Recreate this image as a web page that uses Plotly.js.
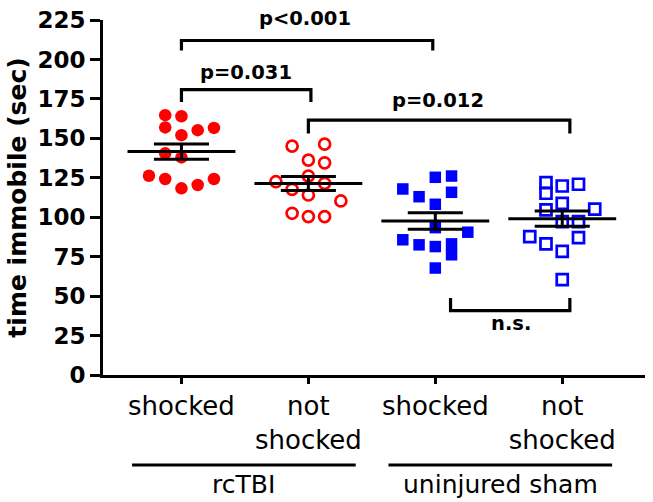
<!DOCTYPE html>
<html>
<head>
<meta charset="utf-8">
<script src="https://cdn.plot.ly/plotly-3.0.1.min.js"></script>
<style>html,body{margin:0;padding:0;background:#fff;}#chart{width:653px;height:502px;}</style>
</head>
<body>
<div id="chart"></div>
<script>
// ---- data ----
var categories = ['shocked', 'not<br>shocked', 'shocked', 'not<br>shocked'];
var groupLabels = ['rcTBI', 'uninjured sham'];

// rcTBI shocked (filled red circles)
var tbiShocked = [126.3, 164.7, 156.9, 140.5, 124.2, 164.0, 152.0, 137.9, 118.3, 155.2, 120.4, 156.6, 124.2];
var tbiShockedCol = [-2, -1, -1, -1, -1, 0, 0, 0, 0, 1, 1, 2, 2];
// rcTBI not shocked (open red circles)
var tbiNot = [145.1, 146.3, 136.2, 134.5, 126.1, 122.5, 121.5, 117.7, 114.1, 110.3, 102.5, 100.4, 100.4];
var tbiNotCol = [-1, 1, 0, 1, 0, -2, 1, -1, 0, 2, -1, 0, 1];
// sham shocked (filled blue squares)
var shamShocked = [125.3, 126.1, 117.9, 113.0, 115.8, 108.2, 93.4, 90.5, 85.7, 82.5, 81.4, 83.1, 76.2, 67.8];
var shamShockedCol = [0, 1, -2, -1, 1, 0, 0, 2, -2, -1, 0, 1, 1, 0];
// sham not shocked (open blue squares)
var shamNot = [121.9, 115.2, 119.8, 120.9, 108.8, 104.6, 105.1, 97.2, 97.2, 87.7, 83.1, 87.1, 78.3, 60.4];
var shamNotCol = [-1, -1, 0, 1, 0, -1, 2, 0, 1, -2, -1, 1, 0, 0];

// significance brackets
var bracketFrom = [1, 1, 2, 3.12];
var bracketTo = [2.98, 2.02, 4.06, 4.06];
var bracketBar = [212, 180.9, 161.5, 40.8];
var bracketEnd = [205.6, 173, 153.1, 48.8];
var bracketText = ['p<0.001', 'p=0.031', 'p=0.012', 'n.s.'];
var bracketTextX = [1.97, 1.51, 3.02, 3.60];
var bracketTextY = [226, 192, 174, 32.5];

var yMax = 225;

// ---- build ----
var colStep = 0.128;
var groups = [
  {y: tbiShocked, c: tbiShockedCol, x0: 1, sym: 'circle', size: 12.5, color: '#ff0000'},
  {y: tbiNot, c: tbiNotCol, x0: 2, sym: 'circle-open', size: 11, color: '#ff0000'},
  {y: shamShocked, c: shamShockedCol, x0: 3, sym: 'square', size: 11.5, color: '#0000ff'},
  {y: shamNot, c: shamNotCol, x0: 4, sym: 'square-open', size: 11, color: '#0000ff'}
];
var traces = [];
var meanHalf = 0.425, capHalf = 0.217;
groups.forEach(function (g) {
  traces.push({
    type: 'scatter', mode: 'markers',
    x: g.c.map(function (c) { return g.x0 + c * colStep; }),
    y: g.y,
    marker: {symbol: g.sym, size: g.size, color: g.color, line: {width: g.sym.indexOf('open') >= 0 ? 2.7 : 0, color: g.color}},
    showlegend: false, hoverinfo: 'y', cliponaxis: false
  });
});
groups.forEach(function (g) {
  var n = g.y.length;
  var m = g.y.reduce(function (a, b) { return a + b; }, 0) / n;
  var sd = Math.sqrt(g.y.reduce(function (a, b) { return a + (b - m) * (b - m); }, 0) / (n - 1));
  var se = sd / Math.sqrt(n);
  var xs = [g.x0 - meanHalf, g.x0 + meanHalf, null,
            g.x0 - capHalf, g.x0 + capHalf, null,
            g.x0 - capHalf, g.x0 + capHalf, null,
            g.x0, g.x0];
  var ys = [m, m, null, m + se, m + se, null, m - se, m - se, null, m - se, m + se];
  traces.push({type: 'scatter', mode: 'lines', x: xs, y: ys,
    line: {color: '#000', width: 3}, showlegend: false, hoverinfo: 'skip'});
});
var annotations = [];
for (var i = 0; i < bracketFrom.length; i++) {
  traces.push({type: 'scatter', mode: 'lines',
    x: [bracketFrom[i], bracketFrom[i], bracketTo[i], bracketTo[i]],
    y: [bracketEnd[i], bracketBar[i], bracketBar[i], bracketEnd[i]],
    line: {color: '#000', width: 3.2}, showlegend: false, hoverinfo: 'skip', cliponaxis: false});
  annotations.push({x: bracketTextX[i], y: bracketTextY[i] / yMax, xref: 'x', yref: 'paper',
    text: bracketText[i], showarrow: false, xanchor: 'center', yanchor: 'middle',
    font: {family: 'DejaVu Sans', size: 19.5, color: '#000', weight: 'bold'}});
}
// group labels below axis
var groupLineFrom = [0.611, 2.631];
var groupLineTo = [2.373, 4.393];
var shapes = [];
for (var j = 0; j < groupLabels.length; j++) {
  shapes.push({type: 'line', xref: 'x', yref: 'paper', x0: groupLineFrom[j], x1: groupLineTo[j],
    y0: -0.2537, y1: -0.2537, line: {color: '#000', width: 3}});
  annotations.push({x: (groupLineFrom[j] + groupLineTo[j]) / 2, y: -0.3076, xref: 'x', yref: 'paper',
    text: groupLabels[j], showarrow: false, xanchor: 'center', yanchor: 'middle',
    font: {family: 'DejaVu Sans', size: 25, color: '#000'}});
}

var layout = {
  width: 653, height: 502,
  margin: {l: 103, r: 8, t: 19.5, b: 126.5},
  paper_bgcolor: '#fff', plot_bgcolor: '#fff',
  showlegend: false,
  xaxis: {
    range: [0.382, 4.652], tickvals: [1, 2, 3, 4], ticktext: categories,
    showgrid: false, zeroline: false, showline: true, linecolor: '#000', linewidth: 3,
    ticks: 'outside', ticklen: 6, tickwidth: 3, tickcolor: '#000',
    tickfont: {family: 'DejaVu Sans', size: 26, color: '#000'}
  },
  yaxis: {
    range: [0, yMax], tickvals: [0, 25, 50, 75, 100, 125, 150, 175, 200, 225],
    showgrid: false, zeroline: false, showline: true, linecolor: '#000', linewidth: 3,
    ticks: 'outside', ticklen: 10, tickwidth: 3, tickcolor: '#000',
    tickfont: {family: 'DejaVu Sans', size: 23, color: '#000', weight: 'bold'},
    title: {text: '<b>time immobile (sec)</b>', font: {family: 'DejaVu Sans', size: 25, color: '#000'}, standoff: 4}
  },
  shapes: shapes,
  annotations: annotations
};
Plotly.newPlot('chart', traces, layout, {displayModeBar: false, staticPlot: true});
</script>
</body>
</html>
